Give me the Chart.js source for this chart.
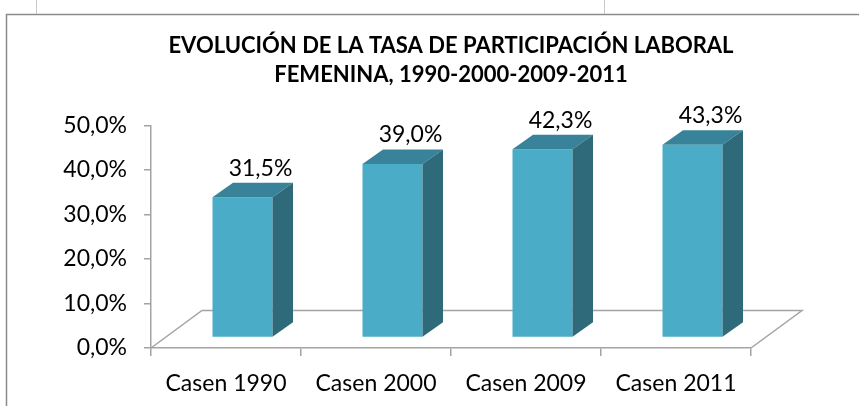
<!DOCTYPE html>
<html lang="es">
<head>
<meta charset="UTF-8">
<title>Evolución de la tasa de participación laboral femenina</title>
<script src="https://cdn.jsdelivr.net/npm/chart.js@4.4.1/dist/chart.umd.min.js"></script>
<style>
  html, body { margin: 0; padding: 0; background: #fff; }
  #wrap { width: 859px; height: 406px; }
</style>
</head>
<body>
<div id="wrap"><canvas id="chart" width="859" height="406"></canvas></div>
<script>
// data
const categories = ["Casen 1990", "Casen 2000", "Casen 2009", "Casen 2011"];
const tasa = [31.5, 39.0, 42.3, 43.3];
const yTicks = [0, 10, 20, 30, 40, 50];
const titleLines = ["EVOLUCIÓN DE LA TASA DE PARTICIPACIÓN LABORAL", "FEMENINA, 1990-2000-2009-2011"];

const FONT = "Lato, 'Open Sans', sans-serif";
const AXIS_GREY = "#a3a3a3";
const pct = v => Number(v).toFixed(1).replace(".", ",") + "%";

// fake 3D (Excel style), offsets in px
const BAR_SHIFT = { x: 16.5, y: -10.5 };
const BAR_DEPTH = { x: 20.5, y: -14.5 };
const FLOOR_DEPTH = { x: 51, y: -37.5 };

// outer frame of the pasted chart
const framePlugin = {
  id: "frame",
  beforeDraw(chart) {
    const ctx = chart.ctx;
    ctx.save();
    ctx.fillStyle = "#fff";
    ctx.fillRect(0, 0, chart.width, chart.height);
    ctx.strokeStyle = "#8c8c8c";
    ctx.lineWidth = 1.5;
    ctx.beginPath();
    ctx.moveTo(6.5, chart.height);
    ctx.lineTo(6.5, 14.5);
    ctx.lineTo(chart.width, 14.5);
    ctx.stroke();
    ctx.strokeStyle = "#c8c8c8";
    ctx.lineWidth = 1;
    ctx.beginPath();
    ctx.moveTo(36.5, 0); ctx.lineTo(36.5, 14);
    ctx.moveTo(604.5, 0); ctx.lineTo(604.5, 14);
    ctx.stroke();
    ctx.restore();
  }
};

// floor + 3D bar faces + value labels
const bars3dPlugin = {
  id: "bars3d",
  beforeDatasetsDraw(chart) {
    const { ctx, chartArea, scales } = chart;
    const y0 = scales.y.getPixelForValue(0);
    ctx.save();
    ctx.strokeStyle = AXIS_GREY;
    ctx.lineWidth = 1.5;
    ctx.beginPath();
    ctx.moveTo(chartArea.left, y0);
    ctx.lineTo(chartArea.left + FLOOR_DEPTH.x, y0 + FLOOR_DEPTH.y);
    ctx.lineTo(chartArea.right + FLOOR_DEPTH.x, y0 + FLOOR_DEPTH.y);
    ctx.lineTo(chartArea.right, y0);
    ctx.stroke();
    ctx.restore();

    // bars sit a bit behind the front edge of the floor
    ctx.save();
    ctx.translate(BAR_SHIFT.x, BAR_SHIFT.y);
  },
  afterDatasetsDraw(chart) {
    const ctx = chart.ctx;
    const meta = chart.getDatasetMeta(0);
    meta.data.forEach((bar, i) => {
      const { x, y, base, width } = bar.getProps(["x", "y", "base", "width"], true);
      const l = x - width / 2, r = x + width / 2;
      const dx = BAR_DEPTH.x, dy = BAR_DEPTH.y;

      ctx.fillStyle = "#388399";
      ctx.beginPath();
      ctx.moveTo(l, y);
      ctx.lineTo(r, y);
      ctx.lineTo(r + dx, y + dy);
      ctx.lineTo(l + dx, y + dy);
      ctx.closePath();
      ctx.fill();

      ctx.fillStyle = "#2f6a7a";
      ctx.beginPath();
      ctx.moveTo(r, y);
      ctx.lineTo(r + dx, y + dy);
      ctx.lineTo(r + dx, base + dy);
      ctx.lineTo(r, base);
      ctx.closePath();
      ctx.fill();

      ctx.fillStyle = "#000";
      ctx.font = "23px " + FONT;
      ctx.textAlign = "center";
      ctx.textBaseline = "middle";
      ctx.fillText(pct(tasa[i]), x + 18, y - 29);
    });
    ctx.restore();
  }
};

new Chart(document.getElementById("chart"), {
  type: "bar",
  data: {
    labels: categories,
    datasets: [{
      label: "Tasa de participación",
      data: tasa,
      backgroundColor: "#4aacc6",
      borderWidth: 0,
      barPercentage: 0.4,
      categoryPercentage: 1,
      clip: false,
    }]
  },
  options: {
    responsive: false,
    animation: false,
    layout: { padding: { left: 0, right: 108, top: 0, bottom: 0 } },
    plugins: {
      legend: { display: false },
      tooltip: { enabled: false },
      title: {
        display: true,
        fullSize: false,
        text: titleLines,
        color: "#000",
        font: { family: FONT, size: 22, weight: "bold", lineHeight: "29px" },
        padding: { top: 31.5, bottom: 36 },
      },
    },
    scales: {
      x: {
        type: "category",
        offset: true,
        grid: { offset: true, drawOnChartArea: false, drawTicks: true, tickLength: 8, color: AXIS_GREY, lineWidth: 1.5 },
        border: { display: true, color: AXIS_GREY, width: 1.5 },
        ticks: { color: "#000", font: { family: FONT, size: 23 }, padding: 14, maxRotation: 0 },
        afterFit: s => { s.height = 58; },
      },
      y: {
        min: 0,
        max: 50,
        grid: { drawOnChartArea: false, drawTicks: true, tickLength: 7, color: AXIS_GREY, lineWidth: 1.5 },
        border: { display: true, color: AXIS_GREY, width: 1.5 },
        ticks: { color: "#000", font: { family: FONT, size: 23 }, padding: 17, callback: v => pct(v) },
        afterBuildTicks: s => { s.ticks = yTicks.map(v => ({ value: v })); },
        afterFit: s => { s.width = 151; },
      },
    },
  },
  plugins: [framePlugin, bars3dPlugin],
});
</script>
</body>
</html>
